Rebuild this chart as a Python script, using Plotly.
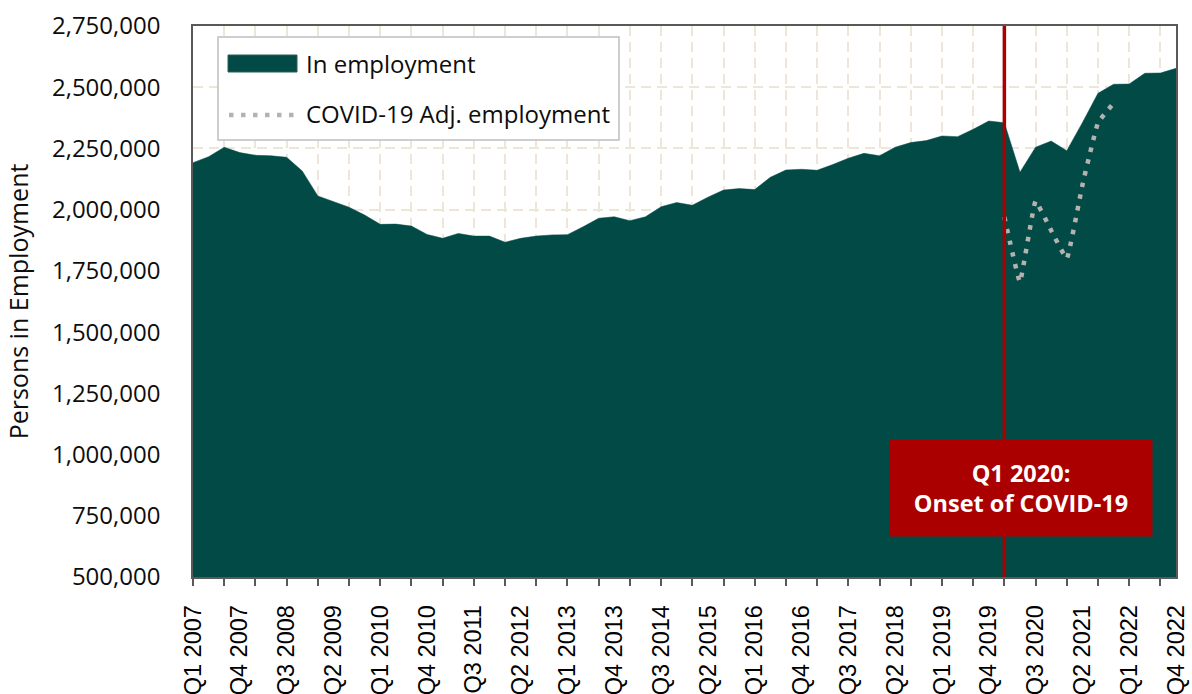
import plotly.graph_objects as go

# Quarterly categories, Q1 2007 .. Q4 2022
years = list(range(2007, 2023))
quarters = [f"Q{q} {y}" for y in years for q in range(1, 5)]

# Persons in employment per quarter
in_employment = [
    2192000, 2216000, 2255000, 2233000, 2222000, 2220000, 2214000, 2158000,
    2056000, 2033000, 2010000, 1978000, 1940000, 1941000, 1933000, 1899000,
    1883000, 1903000, 1892000, 1892000, 1867000, 1883000, 1892000, 1897000,
    1898000, 1930000, 1965000, 1971000, 1955000, 1971000, 2012000, 2029000,
    2018000, 2051000, 2080000, 2086000, 2082000, 2132000, 2162000, 2165000,
    2161000, 2184000, 2210000, 2230000, 2220000, 2255000, 2274000, 2282000,
    2301000, 2298000, 2328000, 2362000, 2355000, 2153000, 2255000, 2280000,
    2241000, 2355000, 2475000, 2512000, 2513000, 2557000, 2558000, 2577000,
]

# COVID-19 adjusted employment, Q1 2020 .. Q4 2021
covid_quarters = quarters[52:60]
covid_adj = [1970000, 1705000, 2035000, 1915000, 1800000, 2100000, 2355000, 2435000]

# Axis labels every third quarter, tick marks every second quarter
label_quarters = quarters[::3]
onset_quarter = "Q1 2020"

TEAL = "#024a46"
RED = "#aa0000"
DOT = "#b5b2af"
GRID = "#eee7d7"
FRAME = "#595959"

W, H = 1192, 694
ML, MR, MT, MB = 193, 16, 26, 117
PW, PH = W - ML - MR, H - MT - MB


def px_x(p):
    return (p - ML) / PW


def px_y(p):
    return (H - MB - p) / PH


fig = go.Figure()

fig.add_trace(go.Scatter(
    x=quarters, y=in_employment, name="In employment",
    mode="lines", fill="tozeroy", fillcolor=TEAL,
    line=dict(color=TEAL, width=0.5), showlegend=False,
))

fig.add_trace(go.Scatter(
    x=covid_quarters, y=covid_adj, name="COVID-19 Adj. employment",
    mode="lines", line=dict(color=DOT, width=4.5, dash="4.5px,7.5px",
                            shape="spline", smoothing=0.25),
    showlegend=False,
))

shapes = [
    # onset marker
    dict(type="line", xref="x2", yref="paper",
         x0=quarters.index(onset_quarter), x1=quarters.index(onset_quarter),
         y0=0, y1=1, line=dict(color=RED, width=3.5), layer="above"),
    # legend frame
    dict(type="rect", xref="paper", yref="paper",
         x0=px_x(218), x1=px_x(619), y0=px_y(140), y1=px_y(37),
         line=dict(color="#bfbfbf", width=1.5), fillcolor="white", layer="above"),
    # legend swatch: area
    dict(type="rect", xref="paper", yref="paper",
         x0=px_x(228), x1=px_x(297), y0=px_y(72), y1=px_y(55),
         line=dict(color="#2a5f5b", width=1), fillcolor=TEAL, layer="above"),
    # legend swatch: dotted line
    dict(type="line", xref="paper", yref="paper",
         x0=px_x(229), x1=px_x(295), y0=px_y(115), y1=px_y(115),
         line=dict(color=DOT, width=4.5, dash="4.5px,7.5px"), layer="above"),
]

annotations = [
    dict(text="In employment", xref="paper", yref="paper",
         x=px_x(304), y=px_y(63), xanchor="left", yanchor="middle",
         showarrow=False, font=dict(family="Open Sans", size=24, color="#0d0d0d")),
    dict(text="COVID-19 Adj. employment", xref="paper", yref="paper",
         x=px_x(304), y=px_y(114), xanchor="left", yanchor="middle",
         showarrow=False, font=dict(family="Open Sans", size=24, color="#0d0d0d")),
    dict(text="<b>Q1 2020:</b><br><b>Onset of COVID-19</b>", xref="paper", yref="paper",
         x=px_x(1020.5), y=px_y(487.5), xanchor="center", yanchor="middle",
         width=262, height=96, borderpad=0, bgcolor=RED, showarrow=False,
         align="center",
         font=dict(family="Open Sans", size=23.5, color="white")),
]

fig.update_layout(
    width=W, height=H,
    margin=dict(l=ML, r=MR, t=MT, b=MB, pad=0, autoexpand=False),
    paper_bgcolor="white", plot_bgcolor="white",
    showlegend=False,
    shapes=shapes, annotations=annotations,
    xaxis=dict(
        type="category", range=[0, len(quarters) - 1],
        tickmode="array", tickvals=label_quarters, ticktext=label_quarters,
        tickangle=-90, ticks="outside", ticklen=17, tickcolor="rgba(0,0,0,0)",
        tickfont=dict(family="Liberation Sans", size=23.5, color="#000000"),
        showgrid=False, zeroline=False, automargin=False,
        showline=True, mirror=True, linecolor=FRAME, linewidth=1.5,
    ),
    xaxis2=dict(
        overlaying="x", anchor="y", side="bottom", type="linear",
        range=[0, len(quarters) - 1], tickmode="linear", tick0=0, dtick=2,
        ticks="outside", ticklen=8, tickwidth=1.5, tickcolor=FRAME,
        showticklabels=False, showline=False, zeroline=False, automargin=False,
        showgrid=True, gridcolor=GRID, gridwidth=1.5, griddash="10px,6px",
    ),
    yaxis=dict(
        range=[500000, 2750000], tickmode="linear", tick0=500000, dtick=250000,
        tickformat=",d", ticks="", ticklabelstandoff=26,
        tickfont=dict(family="Open Sans", size=24, color="#0d0d0d"),
        title=dict(text="Persons in Employment", standoff=16,
                   font=dict(family="Open Sans", size=25, color="#0d0d0d")),
        showgrid=True, gridcolor=GRID, gridwidth=1.5, griddash="10px,6px",
        zeroline=False, showline=True, mirror=True, linecolor=FRAME, linewidth=1.5,
        automargin=False,
    ),
)

fig.write_html("out.html")
